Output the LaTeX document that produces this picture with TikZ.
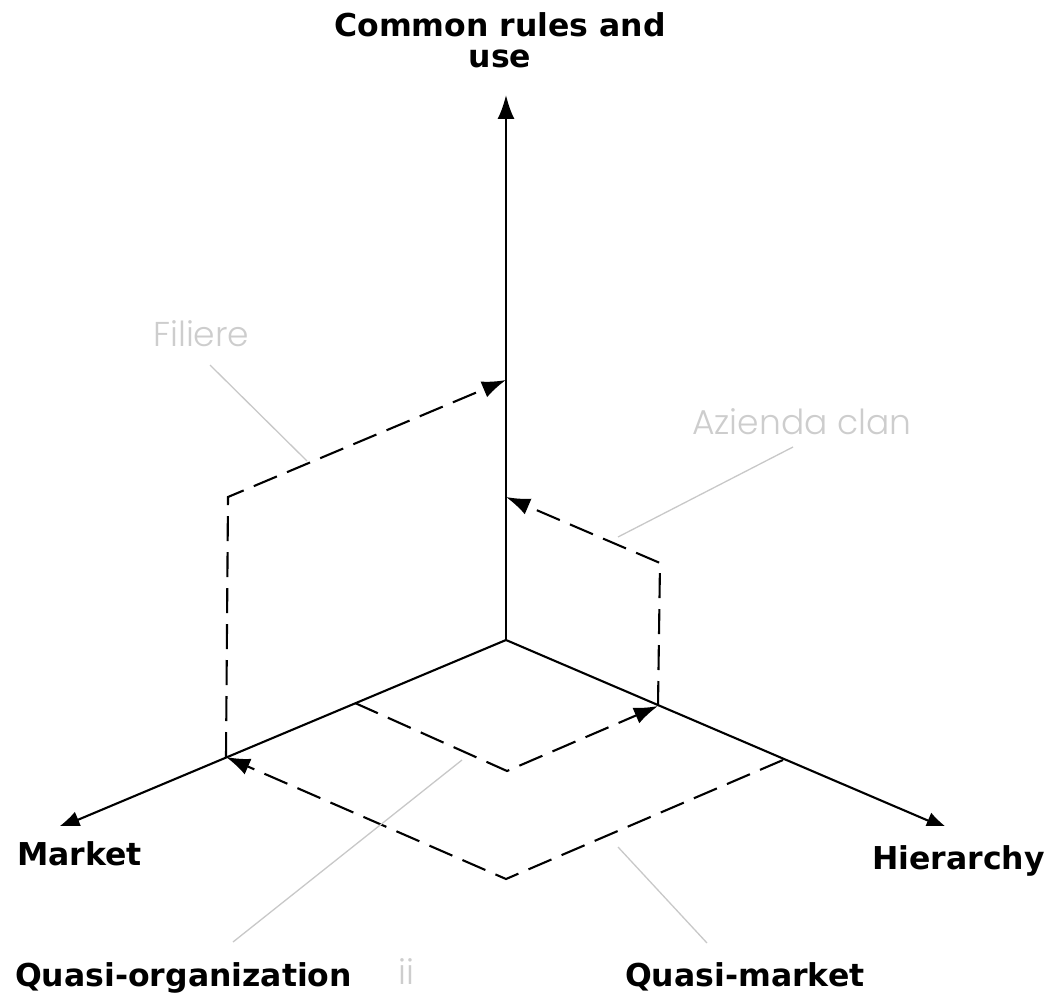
\documentclass[tikz,border=0pt]{standalone}
\usepackage{fontspec}
\setmainfont{DejaVu Sans}
\newfontfamily\thinfont{Poppins Light}
\usepackage{tikz}
\usetikzlibrary{arrows.meta}
\usetikzlibrary{positioning}
\definecolor{leadgray}{RGB}{200,200,200}
\definecolor{textgray}{RGB}{205,205,205}
\tikzset{>={Latex[length=24pt,width=17pt]}}
\tikzstyle{axis} = [->, line width=2.1pt]
\tikzstyle{path} = [->, line width=2.1pt, dash pattern=on 25pt off 11pt]
\tikzstyle{lead} = [-, draw=leadgray, line width=1.3pt]
\tikzstyle{bold} = [inner sep=0pt, font=\fontsize{31.5}{31}\selectfont\bfseries]
\tikzstyle{pale} = [inner sep=0pt, text=textgray, font=\fontsize{34.5}{38}\selectfont\thinfont]

\begin{document}
\begin{tikzpicture}[x=1pt, y=-1pt]
\useasboundingbox (0, 0) rectangle (1047, 995);
\coordinate (O) at (506, 640);
\coordinate (T) at (506, 95);
\coordinate (Mk) at (56, 829);
\coordinate (Hi) at (950, 830);
\coordinate (M1) at (226, 757);
\coordinate (M2) at (355, 703);
\coordinate (H1) at (658, 706);
\coordinate (H2) at (783, 760);
\coordinate (F1) at (228, 497);
\coordinate (V1) at (506, 380);
\coordinate (A1) at (660, 563);
\coordinate (V2) at (506, 497);
\coordinate (P) at (507, 771);
\coordinate (Q) at (506, 879);
% axes
\draw [axis] (O) to (T);
\begin{scope}
\clip (0, 0) rectangle (1047, 825);
\draw [axis] (O) to (Mk);
\draw [axis] (O) to (Hi);
\end{scope}
% dashed paths
\draw [path] (M1) -- (F1) -- (V1);
\draw [path] (H1) -- (A1) -- (V2);
\draw [path] (M2) -- (P) -- (H1);
\draw [path] (H2) -- (Q) -- (M1);
% labels
\node [bold, align=center, anchor=base] (CR) at (500, 68) {Common rules and\\use};
\node [bold, anchor=base west] (MK) at (17, 865) {Market};
\node [bold, anchor=base west] (HI) at (872, 869) {Hierarchy};
\node [bold, anchor=base west] (QO) at (15, 986) {Quasi-organization};
\node [bold, anchor=base west] (QM) at (625, 986) {Quasi-market};
\node [pale, anchor=base west] (FI) at (153, 346) {Filiere};
\node [pale, anchor=base west] (AC) at (692, 434) {Azienda clan};
\node [pale, anchor=base west] (II) at (398, 984) {ii};
% leaders
\coordinate (f1) at (210, 365);
\coordinate (f2) at (307, 461);
\coordinate (a1) at (793, 447);
\coordinate (a2) at (618, 537);
\coordinate (o1) at (462, 760);
\coordinate (o2) at (233, 942);
\coordinate (q1) at (618, 847);
\coordinate (q2) at (707, 943);
\draw [lead] (f1) to (f2);
\draw [lead] (a1) to (a2);
\draw [lead] (o1) to (o2);
\draw [lead] (q1) to (q2);
\end{tikzpicture}
\end{document}
